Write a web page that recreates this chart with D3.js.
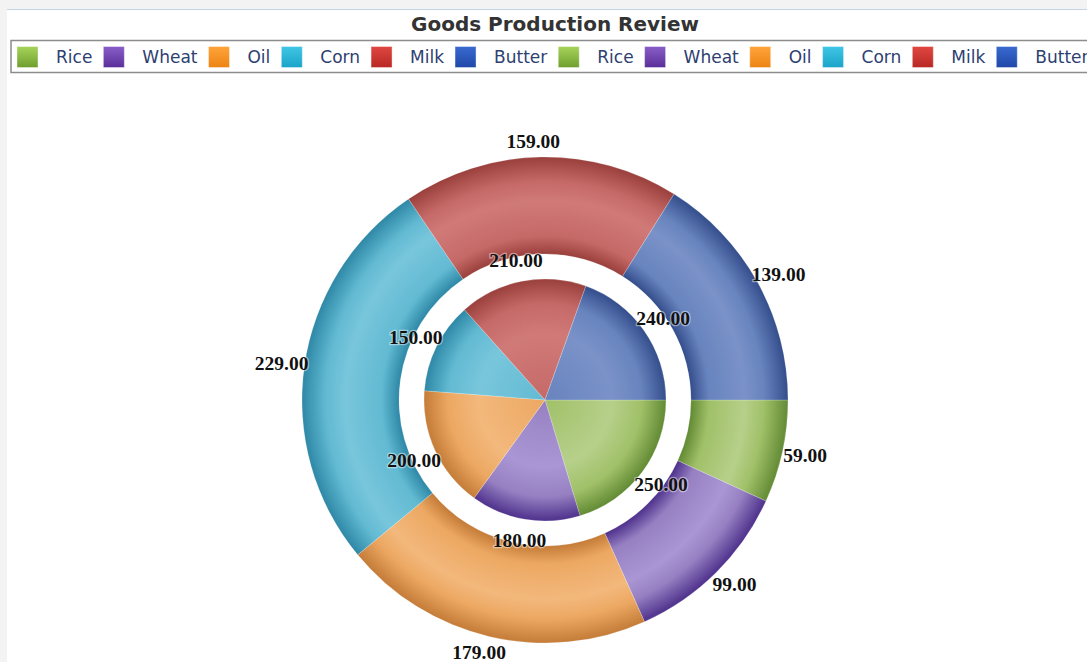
<!DOCTYPE html>
<html><head><meta charset="utf-8">
<script src="https://cdn.jsdelivr.net/npm/d3@7"></script>
<style>
html,body{margin:0;padding:0;background:#f3f3f3;}
svg{display:block;}
</style></head>
<body>
<svg id="chart" width="1087" height="662"></svg>
<script>
const categories = ["Rice","Wheat","Oil","Corn","Milk","Butter"];
const innerValues = [250,180,200,150,210,240];
const outerValues = [59,99,179,229,159,139];
const legendLabels = ["Rice","Wheat","Oil","Corn","Milk","Butter","Rice","Wheat","Oil","Corn","Milk","Butter"];
const title = "Goods Production Review";

const legendColors = {Rice:["#a6d45a","#6f9e2e"],Wheat:["#8a5ec8","#5a2f98"],Oil:["#ffa43a","#ec8414"],Corn:["#40c6e6","#1aa4c8"],Milk:["#e04840","#b82824"],Butter:["#3a6ad0","#1f48a8"]};
const sliceColors = {
  Rice:{light:"#b6d08a",mid:"#a0c068",dark:"#628a34"},
  Wheat:{light:"#aa96d4",mid:"#9680c2",dark:"#4e318c"},
  Oil:{light:"#f3b87c",mid:"#eca862",dark:"#c47c38"},
  Corn:{light:"#78c6dc",mid:"#62bad2",dark:"#2e88a6"},
  Milk:{light:"#d07a78",mid:"#c56967",dark:"#9a403c"},
  Butter:{light:"#7a92c8",mid:"#6884be",dark:"#344e8c"}
};

const W = 1087, H = 662;
const svg = d3.select("#chart");
const cx = 545, cy = 400;
const rInner = 121, rOuterIn = 146, rOuterOut = 243;

// panel
svg.append("rect").attr("x",7).attr("y",9).attr("width",W).attr("height",H).attr("fill","#ffffff");
svg.append("line").attr("x1",7).attr("x2",W).attr("y1",9.5).attr("y2",9.5).attr("stroke","#c6d3e2").attr("stroke-width",1.2);

// title
svg.append("text").attr("x",555).attr("y",31).attr("text-anchor","middle")
  .attr("font-family","'DejaVu Sans', Verdana, sans-serif").attr("font-weight","bold")
  .attr("font-size",20).attr("fill","#333333").text(title);

// legend
svg.append("rect").attr("x",11).attr("y",40.5).attr("width",1100).attr("height",32)
  .attr("fill","#ffffff").attr("stroke","#8c8c8c").attr("stroke-width",1.5);
const defs = svg.append("defs");
categories.forEach(c=>{
  const g = defs.append("linearGradient").attr("id","lg-"+c).attr("x1",0).attr("y1",0).attr("x2",0).attr("y2",1);
  g.append("stop").attr("offset","0%").attr("stop-color",legendColors[c][0]);
  g.append("stop").attr("offset","100%").attr("stop-color",legendColors[c][1]);
});
const legG = svg.append("g");
let lx = 17;
legendLabels.forEach(l=>{
  legG.append("rect").attr("x",lx).attr("y",46.5).attr("width",21).attr("height",21)
    .attr("fill","url(#lg-"+l+")").attr("stroke","#ffffff").attr("stroke-opacity",0.4);
  const t = legG.append("text").attr("x",lx+39).attr("y",63)
    .attr("font-family","'DejaVu Sans', Tahoma, sans-serif").attr("font-size",17)
    .attr("fill","#2d4070").text(l);
  lx = lx + 39 + t.node().getComputedTextLength() + 11;
});

// gradients for slices (user space of the translated group: centre is 0,0)
categories.forEach(c=>{
  const col = sliceColors[c];
  const go = defs.append("radialGradient").attr("id","go-"+c).attr("gradientUnits","userSpaceOnUse")
    .attr("cx",0).attr("cy",0).attr("r",rOuterOut);
  const f = v=> (v/rOuterOut*100)+"%";
  go.append("stop").attr("offset",f(rOuterIn)).attr("stop-color",col.dark);
  go.append("stop").attr("offset",f(rOuterIn+18)).attr("stop-color",col.mid);
  go.append("stop").attr("offset",f((rOuterIn+rOuterOut)/2+5)).attr("stop-color",col.light);
  go.append("stop").attr("offset",f(rOuterOut-24)).attr("stop-color",col.mid);
  go.append("stop").attr("offset","100%").attr("stop-color",col.dark);
  const gi = defs.append("radialGradient").attr("id","gi-"+c).attr("gradientUnits","userSpaceOnUse")
    .attr("cx",0).attr("cy",0).attr("r",rInner);
  gi.append("stop").attr("offset","0%").attr("stop-color",col.mid);
  gi.append("stop").attr("offset","55%").attr("stop-color",col.light);
  gi.append("stop").attr("offset","80%").attr("stop-color",col.mid);
  gi.append("stop").attr("offset","100%").attr("stop-color",col.dark);
});

const pie = d3.pie().sort(null).startAngle(Math.PI/2).endAngle(Math.PI/2 + 2*Math.PI);
const innerData = pie(innerValues).map((d,i)=>Object.assign(d,{cat:categories[i]}));
const outerData = pie(outerValues).map((d,i)=>Object.assign(d,{cat:categories[i]}));

const arcInner = d3.arc().innerRadius(0).outerRadius(rInner);
const arcOuter = d3.arc().innerRadius(rOuterIn).outerRadius(rOuterOut);
const lblInner = d3.arc().innerRadius(142).outerRadius(142);
const lblOuter = d3.arc().innerRadius(259).outerRadius(259);

const g = svg.append("g").attr("transform",`translate(${cx},${cy})`);
g.selectAll("path.o").data(outerData).join("path").attr("class","o")
  .attr("d",arcOuter).attr("fill",d=>"url(#go-"+d.cat+")")
  .attr("stroke","#ffffff").attr("stroke-opacity",0.25).attr("stroke-width",0.8);
g.selectAll("path.i").data(innerData).join("path").attr("class","i")
  .attr("d",arcInner).attr("fill",d=>"url(#gi-"+d.cat+")")
  .attr("stroke","#ffffff").attr("stroke-opacity",0.25).attr("stroke-width",0.8);

const fmt = d3.format(".2f");
function labels(data, arcGen, push){
  g.selectAll(null).data(data).join("text")
    .attr("transform",d=>{
      const [x,y] = arcGen.centroid(d);
      return `translate(${x + Math.sign(x)*push},${y})`;
    })
    .attr("text-anchor","middle").attr("dy","0.35em")
    .attr("font-family","'Liberation Serif','Times New Roman',serif").attr("font-weight","bold")
    .attr("font-size",19.5).attr("fill","#111111")
    .attr("stroke","#ffffff").attr("stroke-opacity",0.45).attr("stroke-width",2.5).attr("paint-order","stroke")
    .text(d=>fmt(d.value));
}
labels(outerData, lblOuter, 7);
labels(innerData, lblInner, 2);
</script>
</body></html>
